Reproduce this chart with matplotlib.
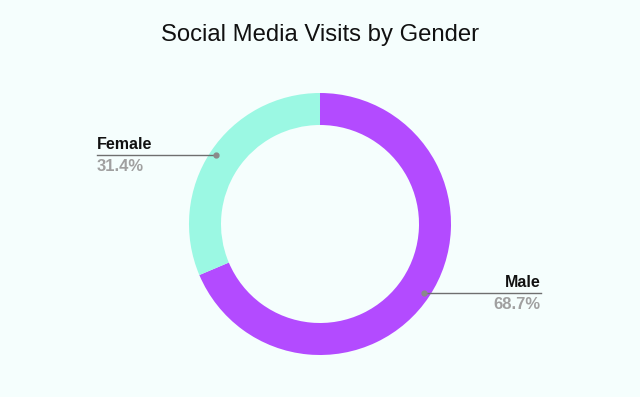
import numpy as np
import matplotlib.pyplot as plt

# data
labels = ['Male', 'Female']
shares = [68.7, 31.4]
colors = ['#B34BFF', '#9BF8E3']

bg = '#F5FEFD'
W, H = 640, 397

fig = plt.figure(figsize=(W / 100, H / 100), dpi=100, facecolor=bg)
ax = fig.add_axes([0, 0, 1, 1])
ax.set_facecolor(bg)

cx, cy, R = 320, 173, 131
wedges, _ = ax.pie(shares, colors=colors, startangle=90, counterclock=False,
                   center=(cx, cy), radius=R, frame=True,
                   wedgeprops=dict(width=32, linewidth=0))
ax.set_xlim(0, W)
ax.set_ylim(0, H)
ax.axis('off')

fig.text(0.5, 0.913, 'Social Media Visits by Gender', ha='center', va='center',
         fontsize=17.2, family='Liberation Sans', color='#111111')

for w, lab, val in zip(wedges, labels, shares):
    ang = np.deg2rad((w.theta1 + w.theta2) / 2)
    px, py = cx + 125 * np.cos(ang), cy + 125 * np.sin(ang)
    right = np.cos(ang) > 0
    ex = 541 if right else 97
    ha = 'right' if right else 'left'
    ax.plot([px, ex], [py, py], color='#6f6f6f', lw=1)
    ax.plot(px, py, 'o', color='#8a8a8a', ms=3.5)
    ax.text(ex, py + 3, lab, ha=ha, va='bottom', fontsize=11.5, fontweight='bold',
            family='Liberation Sans', color='#111111')
    ax.text(ex, py - 4, f'{val:.1f}%', ha=ha, va='top', fontsize=12, fontweight='bold',
            family='Liberation Sans', color='#a0a0a0')

fig.savefig('out.png', dpi=100, facecolor=bg)
